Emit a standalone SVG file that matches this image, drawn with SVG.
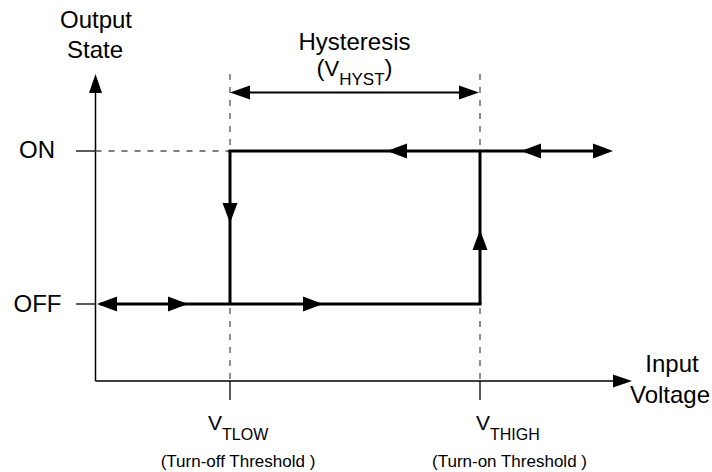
<svg xmlns="http://www.w3.org/2000/svg" xmlns:xlink="http://www.w3.org/1999/xlink" width="712" height="472" viewBox="0 0 712 472">
<style>
text{font-family:"Liberation Sans",Arial,sans-serif;fill:#000}
.big{font-size:24px}
.sm{font-size:17px}
.axis{stroke:#000;stroke-width:1.5;fill:none}
.path{stroke:#000;stroke-width:3;fill:none}
.dash{stroke:#555;stroke-width:1.3;stroke-dasharray:6,7;fill:none}
.tick{stroke:#000;stroke-width:1.3;fill:none}
.ah{fill:#000}
</style>
<defs>
<path id="ah" d="M0,0 L-20,-7.5 L-20,7.5 Z"/>
<path id="ahs" d="M0,0 L-19,-6.5 L-19,6.5 Z"/>
</defs>
<g id="axes">
<line class="axis" x1="95.5" y1="381" x2="95.5" y2="92"/>
<use href="#ahs" class="ah" transform="translate(95.5,74) rotate(-90)"/>
<line class="axis" x1="95.5" y1="381" x2="615" y2="381" stroke-width="2"/>
<use href="#ahs" class="ah" transform="translate(632,381)"/>
<line class="tick" x1="76" y1="151" x2="95.5" y2="151"/>
<line class="tick" x1="76" y1="304" x2="95.5" y2="304"/>
<line class="tick" x1="230" y1="381" x2="230" y2="400"/>
<line class="tick" x1="480" y1="381" x2="480" y2="400"/>
</g>
<g id="guides">
<line class="dash" x1="95.5" y1="151" x2="230" y2="151" stroke-dasharray="7,7.5"/>
<line class="dash" x1="230" y1="74" x2="230" y2="381"/>
<line class="dash" x1="480" y1="74" x2="480" y2="381"/>
</g>
<g id="hysteresis">
<line stroke="#000" stroke-width="2" x1="245" y1="92.5" x2="465" y2="92.5"/>
<use href="#ah" class="ah" transform="translate(230,92.5) rotate(180) scale(1,0.93)"/>
<use href="#ah" class="ah" transform="translate(479,92.5) scale(1,0.93)"/>
<text class="big" x="354.5" y="50" text-anchor="middle">Hysteresis</text>
<text x="354.5" y="76" text-anchor="middle"><tspan font-size="24px">(</tspan><tspan font-size="22px">V</tspan><tspan font-size="17px" dy="9">HYST</tspan><tspan font-size="24px" dy="-9">)</tspan></text>
</g>
<g id="loop">
<line class="path" x1="100" y1="304" x2="481.5" y2="304"/>
<line class="path" x1="480" y1="304" x2="480" y2="151"/>
<line class="path" x1="228.5" y1="151" x2="608" y2="151"/>
<line class="path" x1="230" y1="151" x2="230" y2="304"/>
<use href="#ah" class="ah" transform="translate(97,304) rotate(180)"/>
<use href="#ah" class="ah" transform="translate(188,304)"/>
<use href="#ah" class="ah" transform="translate(323,304)"/>
<use href="#ah" class="ah" transform="translate(387,151) rotate(180)"/>
<use href="#ah" class="ah" transform="translate(521,151) rotate(180)"/>
<use href="#ah" class="ah" transform="translate(613,151)"/>
<use href="#ah" class="ah" transform="translate(230,223) rotate(90)"/>
<use href="#ah" class="ah" transform="translate(480,230) rotate(-90)"/>
</g>
<g id="labels">
<text class="big" x="96" y="28" text-anchor="middle">Output</text>
<text class="big" x="95" y="58" text-anchor="middle">State</text>
<text class="big" x="37" y="157.5" text-anchor="middle">ON</text>
<text class="big" x="37.5" y="312" text-anchor="middle">OFF</text>
<text class="big" x="672" y="372" text-anchor="middle">Input</text>
<text class="big" x="670" y="403" text-anchor="middle">Voltage</text>
<text x="208" y="429.5"><tspan font-size="21px">V</tspan><tspan font-size="16px" dy="10.5">TLOW</tspan></text>
<text x="476" y="429.5"><tspan font-size="21px">V</tspan><tspan font-size="16px" dy="10.5">THIGH</tspan></text>
<text class="sm" x="238" y="467" text-anchor="middle">(Turn-off Threshold )</text>
<text class="sm" x="509.5" y="467" text-anchor="middle">(Turn-on Threshold )</text>
</g>
</svg>
